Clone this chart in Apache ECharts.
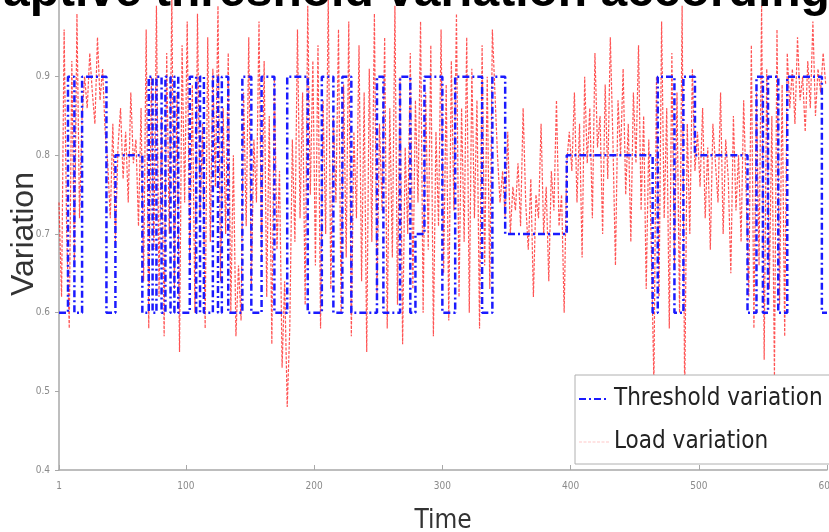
<!DOCTYPE html>
<html><head><meta charset="utf-8">
<script src="https://cdn.jsdelivr.net/npm/echarts@6/dist/echarts.min.js"></script>
<style>html,body{margin:0;padding:0;background:#fff;overflow:hidden}#c{width:829px;height:532px}</style>
</head><body><div id="c"></div>
<script>
// ---- data ----
const titleText = 'aptive threshold variation according';
const xAxisName = 'Time';
const yAxisName = 'Variation';
const seriesNames = ['Threshold variation', 'Load variation'];
const xTickValues = [1, 100, 200, 300, 400, 500, 600];
const yTickValues = [0.4, 0.5, 0.6, 0.7, 0.8, 0.9];

// threshold: time where a level starts, and the level held from there
const thresholdTimes = [1, 8, 13, 19, 38, 45, 66, 71, 74, 77, 81, 84, 88, 91, 94, 103, 108, 111, 114, 121, 125, 128, 133, 144, 151, 159, 169, 179, 195, 206, 215, 222, 229, 249, 254, 267, 275, 279, 286, 300, 310, 331, 339, 349, 397, 464, 468, 481, 488, 497, 538, 545, 550, 554, 562, 569, 596, 600];
const thresholdLevels = [0.6, 0.9, 0.6, 0.9, 0.6, 0.8, 0.6, 0.9, 0.6, 0.9, 0.6, 0.9, 0.6, 0.9, 0.6, 0.9, 0.6, 0.9, 0.6, 0.9, 0.6, 0.9, 0.6, 0.9, 0.6, 0.9, 0.6, 0.9, 0.6, 0.9, 0.6, 0.9, 0.6, 0.9, 0.6, 0.9, 0.6, 0.7, 0.9, 0.6, 0.9, 0.6, 0.9, 0.7, 0.8, 0.6, 0.9, 0.6, 0.9, 0.8, 0.6, 0.9, 0.6, 0.9, 0.6, 0.9, 0.6, 0.6];

// load: one reading every 2 time units starting at t = 1
const loadStart = 1;
const loadStep = 2;
const loadValues = [
  0.74, 0.62, 0.96, 0.70, 0.58, 0.92, 0.66, 0.98, 0.72, 0.85,
  0.90, 0.86, 0.93, 0.88, 0.84, 0.95, 0.87, 0.91, 0.83, 0.79,
  0.72, 0.84, 0.69, 0.81, 0.86, 0.77, 0.83, 0.74, 0.88, 0.79,
  0.82, 0.71, 0.86, 0.64, 0.96, 0.58, 0.90, 0.68, 0.99, 0.62,
  0.85, 0.57, 0.93, 0.70, 1.00, 0.63, 0.88, 0.55, 0.94, 0.74,
  0.97, 0.66, 0.89, 0.60, 0.98, 0.72, 0.84, 0.58, 0.95, 0.69,
  0.91, 0.76, 0.99, 0.64, 0.86, 0.70, 0.93, 0.60, 0.80, 0.57,
  0.66, 0.59, 0.88, 0.71, 0.95, 0.63, 0.82, 0.74, 0.97, 0.67,
  0.92, 0.62, 0.85, 0.56, 0.90, 0.68, 0.78, 0.53, 0.64, 0.48,
  0.58, 0.82, 0.69, 0.96, 0.72, 0.88, 0.61, 0.99, 0.75, 0.92,
  0.66, 0.94, 0.58, 0.87, 0.70, 1.00, 0.63, 0.85, 0.74, 0.96,
  0.60, 0.89, 0.67, 0.97, 0.57, 0.83, 0.72, 0.94, 0.64, 0.88,
  0.55, 0.91, 0.69, 0.98, 0.62, 0.84, 0.73, 0.95, 0.58, 0.86,
  0.67, 0.99, 0.61, 0.90, 0.56, 0.81, 0.70, 0.93, 0.63, 0.87,
  0.74, 0.97, 0.60, 0.88, 0.68, 0.94, 0.57, 0.83, 0.71, 0.96,
  0.65, 0.89, 0.59, 0.92, 0.73, 0.98, 0.62, 0.86, 0.69, 0.95,
  0.60, 0.91, 0.72, 0.87, 0.58, 0.94, 0.66, 0.90, 0.63, 0.96,
  0.88, 0.80, 0.74, 0.78, 0.72, 0.83, 0.70, 0.76, 0.73, 0.79,
  0.71, 0.86, 0.74, 0.68, 0.77, 0.62, 0.75, 0.72, 0.84, 0.70,
  0.76, 0.64, 0.78, 0.73, 0.87, 0.71, 0.75, 0.60, 0.79, 0.83,
  0.78, 0.88, 0.74, 0.84, 0.67, 0.90, 0.79, 0.86, 0.72, 0.93,
  0.81, 0.85, 0.70, 0.89, 0.77, 0.95, 0.82, 0.66, 0.87, 0.80,
  0.91, 0.75, 0.84, 0.69, 0.88, 0.79, 0.94, 0.73, 0.85, 0.63,
  0.82, 0.68, 0.51, 0.90, 0.62, 0.97, 0.72, 0.86, 0.58, 0.93,
  0.66, 0.88, 0.60, 0.99, 0.49, 0.84, 0.70, 0.91, 0.78, 0.83,
  0.76, 0.86, 0.72, 0.81, 0.68, 0.84, 0.79, 0.74, 0.88, 0.70,
  0.82, 0.77, 0.65, 0.85, 0.73, 0.80, 0.69, 0.87, 0.75, 0.62,
  0.94, 0.58, 0.88, 0.66, 0.99, 0.54, 0.91, 0.63, 0.85, 0.52,
  0.96, 0.61, 0.89, 0.57, 0.93, 0.86, 0.91, 0.84, 0.95, 0.87,
  0.90, 0.83, 0.92, 0.86, 0.97, 0.85, 0.91, 0.88, 0.93, 0.89
];

// ---- build ----
const thresholdData = thresholdTimes.map((t, i) => [t, thresholdLevels[i]]);
const loadData = loadValues.map((v, i) => [loadStart + i * loadStep, v]);

const chart = echarts.init(document.getElementById('c'), null, {renderer: 'canvas'});
const axisGray = '#a8a8a8';
const labelGray = '#8a8a8a';
const narrow = "'Liberation Sans Narrow', 'DejaVu Sans Condensed', 'Liberation Sans', Arial, sans-serif";

chart.setOption({
  animation: false,
  backgroundColor: '#ffffff',
  grid: {left: 59, right: 2, top: -2, bottom: 62, containLabel: false, outerBoundsMode: 'none'},
  xAxis: {
    type: 'value', min: 1, max: 600,
    name: xAxisName, nameLocation: 'middle', nameGap: 38, nameMoveOverlap: false,
    nameTextStyle: {fontFamily: narrow, fontSize: 26, color: '#333'},
    axisLine: {show: true, lineStyle: {color: axisGray, width: 1.5}},
    axisTick: {show: true, inside: true, length: 5, customValues: xTickValues, lineStyle: {color: axisGray}},
    axisLabel: {customValues: xTickValues, fontSize: 10, color: labelGray, margin: 11, fontFamily: narrow},
    splitLine: {show: false}
  },
  yAxis: {
    type: 'value', min: 0.4, max: 1.0,
    name: yAxisName, nameLocation: 'middle', nameGap: 19, nameRotate: 90, nameMoveOverlap: false,
    nameTextStyle: {fontFamily: "'Liberation Sans', Arial, sans-serif", fontSize: 32, color: '#333'},
    axisLine: {show: true, lineStyle: {color: axisGray, width: 1.5}},
    axisTick: {show: true, inside: false, length: 4, customValues: yTickValues, lineStyle: {color: axisGray}},
    axisLabel: {customValues: yTickValues, fontSize: 10, color: labelGray, margin: 9, fontFamily: narrow,
      formatter: v => v.toFixed(1)},
    splitLine: {show: false}
  },
  legend: {
    orient: 'vertical', left: 575, top: 375,
    itemWidth: 30, itemHeight: 14, itemGap: 19,
    padding: [12, 40, 10, 3],
    backgroundColor: '#ffffff', borderColor: '#b0b0b0', borderWidth: 1,
    textStyle: {fontFamily: narrow, fontSize: 24, color: '#222'},
    data: [
      {name: seriesNames[0], itemStyle: {opacity: 0}},
      {name: seriesNames[1], itemStyle: {opacity: 0}, lineStyle: {opacity: 0.12}}
    ]
  },
  series: [
    {
      name: seriesNames[1], type: 'line', data: loadData, showSymbol: false, symbol: 'none',
      lineStyle: {color: '#ff1a1a', width: 1.2, type: [3, 1.5], opacity: 0.75},
      itemStyle: {color: '#ff1a1a'}, z: 2
    },
    {
      name: seriesNames[0], type: 'line', data: thresholdData, step: 'end', showSymbol: false, symbol: 'none',
      lineStyle: {color: '#1a1aff', width: 2.5, type: [7, 3, 2, 3]},
      itemStyle: {color: '#1a1aff'}, z: 3
    }
  ],
  graphic: [
    {type: 'text', left: 3, top: -31, z: 100,
      style: {text: titleText, font: "bold 48px 'Liberation Sans', Arial, sans-serif", fill: '#000'}}
  ]
});
</script></body></html>
